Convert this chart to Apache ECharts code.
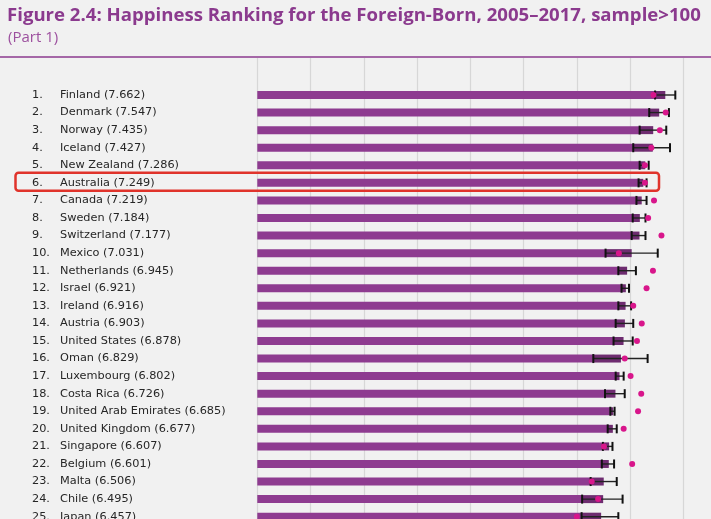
<!DOCTYPE html>
<html>
<head>
<meta charset="utf-8">
<script src="https://cdn.jsdelivr.net/npm/echarts@6/dist/echarts.min.js"></script>
<style>
  html, body { margin: 0; padding: 0; background: #f1f1f1; }
  #main { width: 711px; height: 519px; }
</style>
</head>
<body>
<div id="main"></div>
<script>
// countries in ranking order, with score and 95% confidence band
const countries = ['Finland', 'Denmark', 'Norway', 'Iceland', 'New Zealand', 'Australia', 'Canada', 'Sweden',
  'Switzerland', 'Mexico', 'Netherlands', 'Israel', 'Ireland', 'Austria', 'United States', 'Oman',
  'Luxembourg', 'Costa Rica', 'United Arab Emirates', 'United Kingdom', 'Singapore', 'Belgium', 'Malta', 'Chile', 'Japan'];
const scores = [7.662, 7.547, 7.435, 7.427, 7.286, 7.249, 7.219, 7.184, 7.177, 7.031, 6.945, 6.921, 6.916,
  6.903, 6.878, 6.829, 6.802, 6.726, 6.685, 6.677, 6.607, 6.601, 6.506, 6.495, 6.457];
const lowerCI = [7.47, 7.36, 7.18, 7.06, 7.18, 7.16, 7.12, 7.05, 7.03, 6.54, 6.78, 6.84, 6.78, 6.73, 6.69,
  6.31, 6.73, 6.53, 6.63, 6.58, 6.49, 6.47, 6.26, 6.10, 6.09];
const upperCI = [7.85, 7.73, 7.68, 7.75, 7.35, 7.31, 7.31, 7.29, 7.29, 7.52, 7.11, 6.98, 7.02, 7.06, 7.05,
  7.33, 6.88, 6.90, 6.71, 6.75, 6.67, 6.70, 6.75, 6.86, 6.78];
// pink dots
const dots = [7.44, 7.67, 7.56, 7.40, 7.28, 7.28, 7.45, 7.34, 7.59, 6.79, 7.43, 7.31, 7.06, 7.22, 7.13,
  6.90, 7.01, 7.21, 7.15, 6.88, 6.51, 7.04, 6.28, 6.40, 6.00];
const xTicks = [0, 1, 2, 3, 4, 5, 6, 7, 8];

const labels = countries.map((c, i) => '{r|' + (i + 1) + '.}{n|' + c + ' (' + scores[i].toFixed(3) + ')}');
const ciPart = scores.map((s, i) => s - lowerCI[i]);
const errData = countries.map((c, i) => [lowerCI[i], upperCI[i], i]);

const rowH = 17.57;
const gLeft = 257.3, gRight = 27.7;
const labelFont = 'DejaVu Sans';

var myChart = echarts.init(document.getElementById('main'));
var option = {
  backgroundColor: '#f1f1f1',
  animation: false,
  textStyle: { fontFamily: 'Open Sans' },
  title: [
    {
      text: 'Figure 2.4: Happiness Ranking for the Foreign-Born, 2005–2017, sample>100',
      left: 2, top: 1,
      textStyle: { color: '#8b3a8e', fontSize: 18.6, fontWeight: 'bold', fontFamily: 'Open Sans' }
    },
    {
      text: '(Part 1)',
      left: 3, top: 25,
      textStyle: { color: '#9c4f9e', fontSize: 15, fontWeight: 'normal', fontFamily: 'Open Sans' }
    }
  ],
  grid: [
    { left: gLeft, right: gRight, top: 58, bottom: 0, outerBoundsMode: 'none' },
    {
      left: gLeft, right: gRight, top: 95 - rowH / 2, height: rowH * countries.length,
      outerBoundsMode: 'none'
    }
  ],
  xAxis: [
    {
      gridIndex: 0, type: 'value', min: xTicks[0], max: xTicks[xTicks.length - 1], interval: 1,
      axisLine: { show: false }, axisTick: { show: false }, axisLabel: { show: false },
      splitLine: { lineStyle: { color: '#d7d7d7', width: 1.2 } }
    },
    {
      gridIndex: 1, type: 'value', min: 0, max: 8,
      axisLine: { show: false }, axisTick: { show: false }, axisLabel: { show: false },
      splitLine: { show: false }
    }
  ],
  yAxis: [
    { gridIndex: 0, type: 'value', show: false },
    {
      gridIndex: 1, type: 'category', inverse: true, data: countries,
      axisLine: { show: false }, axisTick: { show: false },
      axisLabel: {
        align: 'left', margin: gLeft - 32,
        formatter: (v, i) => labels[i],
        rich: {
          r: { width: 28, fontSize: 11.3, color: '#262626', fontFamily: labelFont },
          n: { fontSize: 11.3, color: '#262626', fontFamily: labelFont }
        }
      }
    }
  ],
  graphic: [
    {
      type: 'line', shape: { x1: 0, y1: 57, x2: 711, y2: 57 },
      style: { stroke: '#8b3a8e', lineWidth: 1.5 }
    },
    {
      type: 'rect', z: 100,
      shape: { x: 15.5, y: 172.7, width: 643.5, height: 18, r: 3 },
      style: { fill: 'none', stroke: '#e0332b', lineWidth: 2.5 }
    }
  ],
  series: [
    {
      type: 'bar', xAxisIndex: 1, yAxisIndex: 1, stack: 'score', data: lowerCI,
      barWidth: 8, itemStyle: { color: '#8e3b90' }
    },
    {
      type: 'bar', xAxisIndex: 1, yAxisIndex: 1, stack: 'score', data: ciPart,
      barWidth: 8, itemStyle: { color: '#6e2c70' }
    },
    {
      type: 'custom', xAxisIndex: 1, yAxisIndex: 1, data: errData, z: 5,
      encode: { x: [0, 1], y: 2 },
      renderItem: function (params, api) {
        const lo = api.coord([api.value(0), api.value(2)]);
        const hi = api.coord([api.value(1), api.value(2)]);
        const h = 4.5;
        return {
          type: 'group',
          children: [
            { type: 'line', shape: { x1: lo[0], y1: lo[1], x2: hi[0], y2: hi[1] }, style: { stroke: '#222', lineWidth: 1.4 } },
            { type: 'line', shape: { x1: lo[0], y1: lo[1] - h, x2: lo[0], y2: lo[1] + h }, style: { stroke: '#111', lineWidth: 2 } },
            { type: 'line', shape: { x1: hi[0], y1: hi[1] - h, x2: hi[0], y2: hi[1] + h }, style: { stroke: '#111', lineWidth: 2 } }
          ]
        };
      }
    },
    {
      type: 'scatter', xAxisIndex: 1, yAxisIndex: 1, z: 6,
      data: dots.map((d, i) => [d, i]),
      symbolSize: 6, itemStyle: { color: '#d8168b', opacity: 1 }
    }
  ]
};

option && myChart.setOption(option);
</script>
</body>
</html>
